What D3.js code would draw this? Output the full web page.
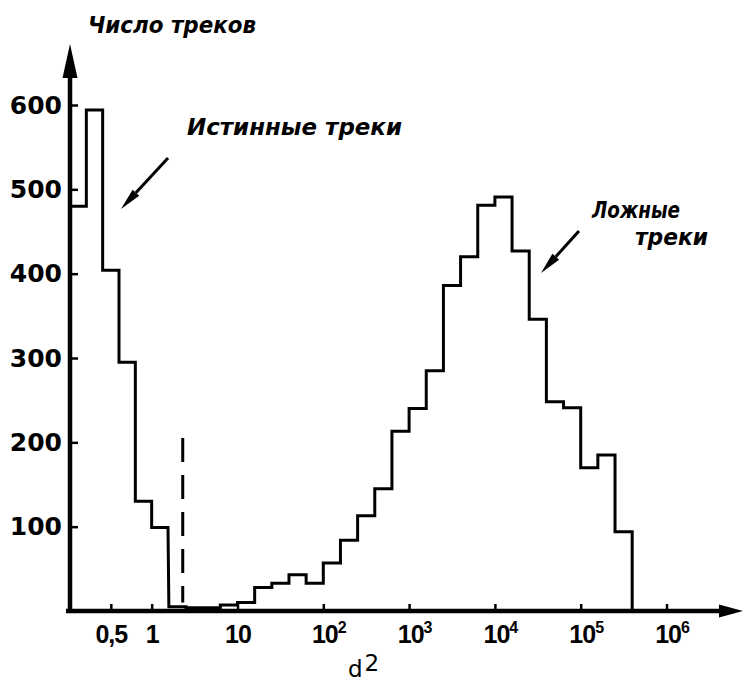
<!DOCTYPE html>
<html>
<head>
<meta charset="utf-8">
<script src="https://cdn.jsdelivr.net/npm/d3@7"></script>
<style>
body { margin: 0; background: #fff; }
</style>
</head>
<body>
<script>
// chart size
var width = 743,
    height = 682;

// true tracks: linear d2 part, bin edges and counts
var trueEdges = [0, 0.2, 0.4, 0.6, 0.8, 1.0, 1.2];
var trueCounts = [480, 594, 404, 295, 130, 99];

// fake tracks: log d2 part, bin edges given as powers of ten
var fakeExp = [0.2, 0.4, 0.6, 0.8, 1.0, 1.2, 1.4, 1.6, 1.8, 2.0, 2.2, 2.4, 2.6, 2.8,
               3.0, 3.2, 3.4, 3.6, 3.8, 4.0, 4.2, 4.4, 4.6, 4.8, 5.0, 5.2, 5.4, 5.6];
var fakeCounts = [5, 4, 4, 7, 10, 28, 33, 43, 33, 57, 84, 113, 145, 213,
                  240, 285, 386, 420, 481, 491, 427, 346, 248, 241, 170, 185, 94];

// axis ticks
var yTicks = [100, 200, 300, 400, 500, 600];
var linTicks = [0.5, 1];
var linLabels = ["0,5", "1"];
var logTicks = [10, 1e2, 1e3, 1e4, 1e5, 1e6];
var logPowers = ["", "2", "3", "4", "5", "6"];

// cut on d2 (dashed line)
var cutD2 = 2.3,
    cutTop = 205,
    cutBottom = 10;

var svg = d3.select("body").append("svg")
    .attr("width", width)
    .attr("height", height)
    .style("background", "#fff");

var x = d3.scaleLinear().domain([0, 1.2]).range([70, 168]);
var xl = d3.scaleLog().domain([10, 1e6]).range([237.5, 666.5]);
var y = d3.scaleLinear().domain([0, 600]).range([611, 105]);

var base = y(0);

// y axis
var yAxis = svg.append("g")
    .attr("transform", "translate(70,0)")
    .call(d3.axisLeft(y).tickValues(yTicks).tickSize(-8).tickPadding(8));
yAxis.select(".domain").remove();
yAxis.selectAll("line").attr("stroke", "#000").attr("stroke-width", 2.5);
yAxis.selectAll("text")
    .attr("fill", "#000")
    .attr("font-family", "DejaVu Sans")
    .attr("font-weight", "bold")
    .attr("font-size", 25);

// x axis, linear part
var xAxis1 = svg.append("g")
    .attr("transform", "translate(0," + base + ")")
    .call(d3.axisBottom(x).tickValues(linTicks).tickSize(-7).tickPadding(14)
        .tickFormat(function(d, i) { return linLabels[i]; }));

// x axis, log part
var xAxis2 = svg.append("g")
    .attr("transform", "translate(0," + base + ")")
    .call(d3.axisBottom(xl).tickValues(logTicks).tickSize(-7).tickPadding(14)
        .tickFormat(function() { return "10"; }));

xAxis2.selectAll("text").each(function(d, i) {
    if (logPowers[i] === "") return;
    d3.select(this).attr("dx", 5)
        .append("tspan")
        .attr("dy", -10)
        .attr("font-size", 16)
        .text(logPowers[i]);
});

[xAxis1, xAxis2].forEach(function(ax) {
    ax.select(".domain").remove();
    ax.selectAll("line").attr("stroke", "#000").attr("stroke-width", 2.5);
    ax.selectAll("text")
        .attr("fill", "#000")
        .attr("font-family", "Liberation Sans")
        .attr("font-weight", "bold")
        .attr("font-size", 25)
        .attr("letter-spacing", -1);
});

// axis lines with arrows
svg.append("line")
    .attr("x1", 70).attr("y1", base + 2)
    .attr("x2", 70).attr("y2", 60)
    .attr("stroke", "#000").attr("stroke-width", 4.5);
svg.append("path")
    .attr("d", "M70,44 L77.5,78 L62.5,78 Z")
    .attr("fill", "#000");

svg.append("line")
    .attr("x1", 66).attr("y1", base)
    .attr("x2", 728).attr("y2", base)
    .attr("stroke", "#000").attr("stroke-width", 4.5);
svg.append("path")
    .attr("d", "M743," + base + " L719," + (base - 6.5) + " L719," + (base + 6.5) + " Z")
    .attr("fill", "#000");

// histogram outline
var pts = [];
trueCounts.forEach(function(c, i) {
    pts.push([x(trueEdges[i]), y(c)]);
    pts.push([x(trueEdges[i + 1]), y(c)]);
});
fakeCounts.forEach(function(c, i) {
    pts.push([xl(Math.pow(10, fakeExp[i])), y(c)]);
    pts.push([xl(Math.pow(10, fakeExp[i + 1])), y(c)]);
});
pts.push([xl(Math.pow(10, fakeExp[fakeExp.length - 1])), base]);

svg.append("path")
    .datum(pts)
    .attr("d", d3.line())
    .attr("fill", "none")
    .attr("stroke", "#000")
    .attr("stroke-width", 3)
    .attr("stroke-linejoin", "miter");

// dashed cut line
svg.append("line")
    .attr("x1", xl(cutD2)).attr("x2", xl(cutD2))
    .attr("y1", y(cutTop)).attr("y2", y(cutBottom))
    .attr("stroke", "#000")
    .attr("stroke-width", 3)
    .attr("stroke-dasharray", "24,13");

// labels
function label(txt, px, py, len) {
    svg.append("text")
        .attr("x", px).attr("y", py)
        .attr("font-family", "DejaVu Sans")
        .attr("font-style", "italic")
        .attr("font-weight", "bold")
        .attr("font-size", 23)
        .attr("textLength", len)
        .attr("lengthAdjust", "spacingAndGlyphs")
        .text(txt);
}
label("Число треков", 88, 33, 168);
label("Истинные треки", 187, 135, 215);
label("Ложные", 592, 218, 88);
label("треки", 635, 245, 73);

var dl = svg.append("text")
    .attr("x", 348).attr("y", 677)
    .attr("font-family", "DejaVu Sans")
    .attr("font-size", 23)
    .text("d");
dl.append("tspan").attr("dx", 2).attr("dy", -6).text("2");

// annotation arrows
function arrow(x1, y1, x2, y2) {
    var a = Math.atan2(y2 - y1, x2 - x1),
        len = 22, w = 4.5,
        bx = x2 - len * Math.cos(a), by = y2 - len * Math.sin(a);
    svg.append("line")
        .attr("x1", x1).attr("y1", y1).attr("x2", bx).attr("y2", by)
        .attr("stroke", "#000").attr("stroke-width", 3);
    svg.append("path")
        .attr("d", "M" + x2 + "," + y2 +
            " L" + (bx + w * Math.sin(a)) + "," + (by - w * Math.cos(a)) +
            " L" + (bx - w * Math.sin(a)) + "," + (by + w * Math.cos(a)) + " Z")
        .attr("fill", "#000");
}
arrow(168, 158, 121, 209);
arrow(579, 231, 541, 273);
</script>
</body>
</html>
